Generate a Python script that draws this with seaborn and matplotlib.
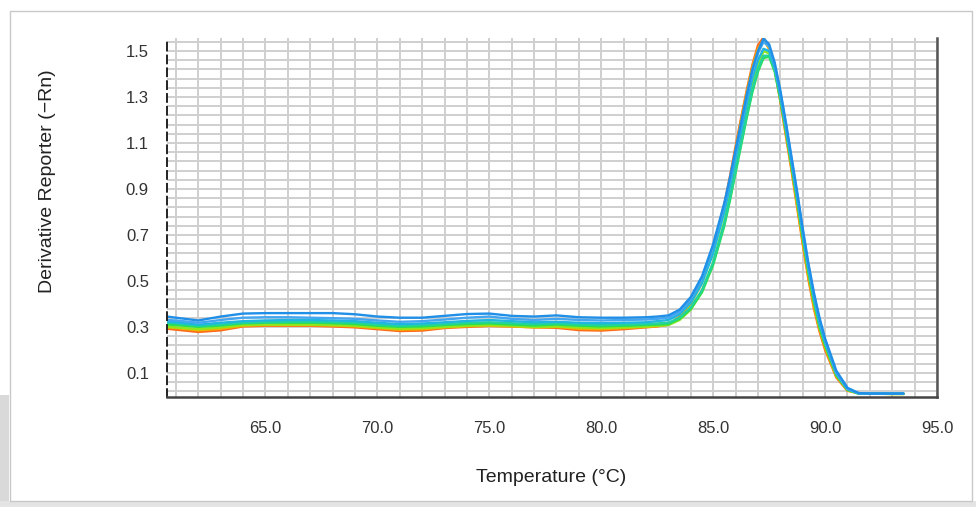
import numpy as np
import pandas as pd
import matplotlib
matplotlib.use("Agg")
import matplotlib.pyplot as plt
from matplotlib.patches import Rectangle
from matplotlib.ticker import MultipleLocator, FixedLocator
import seaborn as sns

# ---------------- data ----------------
temps_base = [60.6, 61, 62, 63, 64, 65, 66, 67, 68, 69, 70, 71, 72, 73, 74, 75,
              76, 77, 78, 79, 80, 81, 82, 82.5]
temps_peak = [83.0, 83.5, 84.0, 84.5, 85.0, 85.5, 85.75, 86.0, 86.25, 86.5, 86.75,
              87.0, 87.25, 87.5, 87.75, 88.0, 88.25, 88.5, 88.75, 89.0, 89.25, 89.5,
              89.75, 90.0, 90.5, 91.0, 91.5, 92.0, 92.5, 93.0, 93.5]
temperature = temps_base + temps_peak

well_names = ["W1", "W2", "W3", "W4", "W5", "W6", "W7", "W8"]
well_colors = ["#1f8fe8", "#44a6f0", "#1fb6df", "#22d49a", "#2ee04a", "#8fe61e",
               "#efb400", "#ff6a1a"]

w1 = [0.345, 0.340, 0.328, 0.345, 0.358, 0.360, 0.360, 0.360, 0.360, 0.355, 0.345, 0.340,
      0.340, 0.348, 0.356, 0.358, 0.348, 0.345, 0.350, 0.342, 0.340, 0.340, 0.342, 0.345,
      0.350, 0.375, 0.430, 0.520, 0.660, 0.840, 0.950, 1.070, 1.190, 1.310, 1.420,
      1.500, 1.555, 1.530, 1.450, 1.330, 1.190, 1.040, 0.890, 0.730, 0.580, 0.450,
      0.340, 0.250, 0.110, 0.035, 0.012, 0.010, 0.010, 0.010, 0.010]
w2 = [0.330, 0.328, 0.318, 0.330, 0.340, 0.342, 0.342, 0.340, 0.338, 0.335, 0.328, 0.322,
      0.325, 0.332, 0.340, 0.345, 0.335, 0.330, 0.335, 0.330, 0.328, 0.330, 0.332, 0.335,
      0.340, 0.365, 0.420, 0.510, 0.650, 0.830, 0.940, 1.060, 1.180, 1.300, 1.410,
      1.490, 1.540, 1.520, 1.440, 1.320, 1.180, 1.030, 0.880, 0.720, 0.570, 0.440,
      0.330, 0.240, 0.100, 0.030, 0.011, 0.010, 0.010, 0.010, 0.010]
w3 = [0.322, 0.320, 0.310, 0.318, 0.325, 0.328, 0.330, 0.330, 0.328, 0.325, 0.318, 0.312,
      0.315, 0.320, 0.326, 0.330, 0.325, 0.320, 0.322, 0.318, 0.316, 0.318, 0.320, 0.325,
      0.330, 0.355, 0.405, 0.490, 0.620, 0.800, 0.910, 1.030, 1.150, 1.270, 1.380,
      1.460, 1.510, 1.500, 1.430, 1.310, 1.170, 1.020, 0.870, 0.710, 0.560, 0.430,
      0.320, 0.235, 0.100, 0.030, 0.011, 0.010, 0.010, 0.010, 0.010]
w4 = [0.318, 0.315, 0.305, 0.310, 0.318, 0.320, 0.322, 0.322, 0.320, 0.318, 0.310, 0.305,
      0.308, 0.312, 0.318, 0.320, 0.316, 0.312, 0.315, 0.310, 0.308, 0.310, 0.312, 0.315,
      0.318, 0.340, 0.385, 0.460, 0.580, 0.750, 0.860, 0.980, 1.100, 1.220, 1.330,
      1.420, 1.480, 1.480, 1.420, 1.300, 1.160, 1.010, 0.860, 0.700, 0.550, 0.420,
      0.310, 0.230, 0.095, 0.028, 0.010, 0.010, 0.010, 0.010, 0.010]
w5 = [0.310, 0.308, 0.300, 0.306, 0.315, 0.318, 0.318, 0.318, 0.316, 0.312, 0.305, 0.300,
      0.302, 0.308, 0.312, 0.315, 0.310, 0.306, 0.310, 0.305, 0.302, 0.305, 0.308, 0.310,
      0.312, 0.335, 0.378, 0.450, 0.570, 0.740, 0.850, 0.970, 1.090, 1.210, 1.320,
      1.410, 1.470, 1.475, 1.410, 1.290, 1.150, 1.000, 0.850, 0.690, 0.540, 0.410,
      0.300, 0.220, 0.090, 0.026, 0.010, 0.010, 0.010, 0.009, 0.009]
w6 = [0.300, 0.298, 0.290, 0.298, 0.308, 0.310, 0.310, 0.310, 0.308, 0.305, 0.298, 0.292,
      0.295, 0.300, 0.305, 0.308, 0.305, 0.300, 0.302, 0.298, 0.295, 0.298, 0.302, 0.305,
      0.308, 0.330, 0.375, 0.455, 0.580, 0.760, 0.870, 0.990, 1.110, 1.230, 1.350,
      1.440, 1.500, 1.490, 1.420, 1.300, 1.160, 1.010, 0.850, 0.690, 0.540, 0.410,
      0.300, 0.220, 0.090, 0.026, 0.010, 0.010, 0.009, 0.008, 0.008]
w7 = [0.298, 0.295, 0.285, 0.292, 0.305, 0.308, 0.308, 0.308, 0.306, 0.302, 0.295, 0.288,
      0.290, 0.298, 0.303, 0.305, 0.302, 0.298, 0.300, 0.292, 0.290, 0.295, 0.300, 0.303,
      0.310, 0.340, 0.400, 0.490, 0.630, 0.820, 0.940, 1.070, 1.200, 1.320, 1.430,
      1.510, 1.550, 1.510, 1.420, 1.290, 1.140, 0.990, 0.830, 0.670, 0.520, 0.390,
      0.290, 0.210, 0.085, 0.024, 0.010, 0.010, 0.009, 0.008, 0.008]
w8 = [0.292, 0.288, 0.278, 0.285, 0.302, 0.305, 0.305, 0.305, 0.302, 0.298, 0.290, 0.282,
      0.284, 0.295, 0.300, 0.304, 0.302, 0.298, 0.296, 0.286, 0.284, 0.290, 0.298, 0.302,
      0.310, 0.345, 0.410, 0.500, 0.645, 0.835, 0.955, 1.085, 1.210, 1.330, 1.440,
      1.525, 1.560, 1.510, 1.420, 1.280, 1.130, 0.980, 0.820, 0.660, 0.510, 0.380,
      0.280, 0.200, 0.080, 0.022, 0.012, 0.010, 0.010, 0.010, 0.010]
well_values = [w1, w2, w3, w4, w5, w6, w7, w8]

x_major = [65, 70, 75, 80, 85, 90, 95]
x_labels = ["65.0", "70.0", "75.0", "80.0", "85.0", "90.0", "95.0"]
y_major = [0.1, 0.3, 0.5, 0.7, 0.9, 1.1, 1.3, 1.5]
y_labels = ["0.1", "0.3", "0.5", "0.7", "0.9", "1.1", "1.3", "1.5"]

# ---------------- table ----------------
frames = []
for name, vals in zip(well_names, well_values):
    frames.append(pd.DataFrame({"Temperature": temperature, "Value": vals, "Well": name}))
df = pd.concat(frames, ignore_index=True)

# ---------------- figure ----------------
sns.set_style("white")
plt.rcParams["font.family"] = ["Liberation Sans", "DejaVu Sans"]

W, H = 976, 507
fig = plt.figure(figsize=(W / 100, H / 100), dpi=100)
fig.patch.set_facecolor("white")

# screenshot frame decoration (background axes)
bg = fig.add_axes([0, 0, 1, 1], zorder=-5)
bg.set_xlim(0, W)
bg.set_ylim(H, 0)
bg.axis("off")
bg.add_patch(Rectangle((0, 395), 9, 112, facecolor="#d9d9d9", edgecolor="none"))
bg.add_patch(Rectangle((0, 501), W, 6, facecolor="#e4e4e4", edgecolor="none"))
bg.add_patch(Rectangle((10, 11), 962, 490, facecolor="white",
                       edgecolor="#c8c8c8", linewidth=1.0))

ax = fig.add_axes([167 / W, 1 - 397 / H, 770 / W, 359 / H], zorder=1)
ax.set_facecolor("white")

palette = dict(zip(well_names, well_colors))
sns.lineplot(data=df, x="Temperature", y="Value", hue="Well", palette=palette,
             hue_order=well_names[::-1], linewidth=1.7, legend=False, ax=ax,
             estimator=None, sort=False)

ax.set_xlim(60.6, 95.0)
ax.set_ylim(-0.005, 1.557)

# ticks & grid
ax.xaxis.set_major_locator(FixedLocator(x_major))
ax.set_xticklabels(x_labels)
ax.xaxis.set_minor_locator(MultipleLocator(1.0))
ax.yaxis.set_major_locator(FixedLocator(y_major))
ax.set_yticklabels(y_labels)
ax.yaxis.set_minor_locator(FixedLocator([0.02 + 0.04 * i for i in range(39)]))

ax.tick_params(axis="x", which="major", length=13, width=1.1, color="#bdbdbd",
               labelsize=12, labelcolor="#333333", pad=4, direction="out")
ax.tick_params(axis="x", which="minor", length=6, width=1.1, color="#bdbdbd",
               direction="out")
ax.tick_params(axis="y", which="major", length=11, width=1.1, color="#bdbdbd",
               labelsize=12, labelcolor="#333333", pad=2, direction="out")
ax.tick_params(axis="y", which="minor", length=6, width=1.1, color="#bdbdbd",
               direction="out")

ax.grid(True, which="both", color="#cfcfcf", linewidth=1.4)
ax.set_axisbelow(True)

ax.spines["top"].set_visible(False)
ax.spines["left"].set_color("#222222")
ax.spines["left"].set_linewidth(1.4)
ax.spines["left"].set_linestyle((0, (4, 2.6)))
ax.spines["bottom"].set_color("#444444")
ax.spines["bottom"].set_linewidth(1.8)
ax.spines["right"].set_color("#555555")
ax.spines["right"].set_linewidth(1.8)

ax.set_xlabel("Temperature (°C)", fontsize=14, color="#222222")
ax.set_ylabel("Derivative Reporter (−Rn)", fontsize=14, color="#222222")
ax.xaxis.set_label_coords(0.499, -0.200)
ax.yaxis.set_label_coords(-0.144, 0.60)

fig.savefig("out.png", dpi=100, facecolor=fig.get_facecolor())
